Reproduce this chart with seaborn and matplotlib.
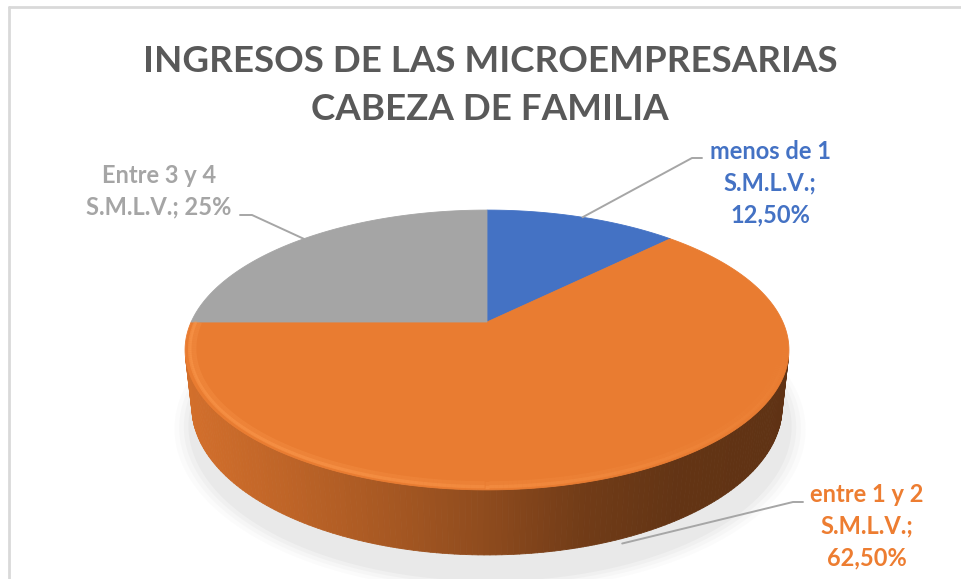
import numpy as np
import matplotlib
matplotlib.use("Agg")
import matplotlib.pyplot as plt
import seaborn as sns
from matplotlib.collections import PolyCollection, LineCollection
from matplotlib.colors import to_rgb

# ---------------- data ----------------
categories = ["menos de 1 S.M.L.V.", "entre 1 y 2 S.M.L.V.", "Entre 3 y 4 S.M.L.V."]
values = [12.5, 62.5, 25.0]
label_lines = [["menos de 1", "S.M.L.V.;", "12,50%"],
               ["entre 1 y 2", "S.M.L.V.;", "62,50%"],
               ["Entre 3 y 4", "S.M.L.V.; 25%"]]
title_lines = ["INGRESOS DE LAS MICROEMPRESARIAS", "CABEZA DE FAMILIA"]
slice_colors = ["#4472C4", "#ED7D31", "#A5A5A5"]
top_colors = ["#4472C4", "#E97C31", "#A5A5A5"]

# ---------------- style ----------------
sns.set_theme(style="white")
plt.rcParams['font.family'] = ['Lato', 'DejaVu Sans']

W, HP = 961, 579
fig = plt.figure(figsize=(W / 100, HP / 100), dpi=100)
ax = fig.add_axes([0, 0, 1, 1])
ax.set_xlim(0, W)
ax.set_ylim(HP, 0)
ax.axis('off')

# perspective projection of a 3D disc
ELEV = np.radians(27.0)
DIST = 4.455
SCALE = 1318
CX, CY = 487, 322
DEPTH = 0.217
ce, se = np.cos(ELEV), np.sin(ELEV)


def proj(x, y, z):
    x = np.asarray(x, float); y = np.asarray(y, float); z = np.asarray(z, float)
    vy = y + DIST * ce
    vz = z - DIST * se
    d = vy * ce - vz * se
    u = vy * se + vz * ce
    return CX + SCALE * x / d, CY - SCALE * u / d


fracs = np.array(values) / np.sum(values)
starts = 90 - 360 * np.concatenate([[0], np.cumsum(fracs)[:-1]])
ends = starts - 360 * fracs

# ---------------- shadow ----------------
t = np.linspace(0, 2 * np.pi, 300)
for r, a in [(1.06, 0.025), (1.045, 0.035), (1.03, 0.045), (1.015, 0.06)]:
    xs, ys = proj(r * np.cos(t) + 0.01, r * np.sin(t) - 0.05, np.full_like(t, -DEPTH - 0.04))
    ax.fill(xs, ys, color='#7f7f7f', alpha=a, lw=0, zorder=1)

# ---------------- side wall ----------------
a0 = np.degrees(np.arcsin(1 / (DIST * ce)))
vis_lo, vis_hi = -180 + a0, -a0
xl, _ = proj(-1.02, -0.2, 0)
xr, _ = proj(1.02, -0.2, 0)
shade_x = [0, 0.15, 0.35, 0.5, 0.65, 0.8, 1.0]
shade_f = [0.90, 0.82, 0.70, 0.60, 0.48, 0.42, 0.40]
polys, cols = [], []
for i in range(len(values)):
    lo, hi = min(starts[i], ends[i]), max(starts[i], ends[i])
    for off in (0, -360, 360):
        l2, h2 = max(lo + off, vis_lo), min(hi + off, vis_hi)
        if h2 > l2:
            th = np.radians(np.linspace(l2, h2, 160))
            base = np.array(to_rgb(slice_colors[i]))
            for j in range(len(th) - 1):
                tt = th[j:j + 2]
                x1, y1 = proj(np.cos(tt), np.sin(tt), np.zeros(2))
                x2, y2 = proj(np.cos(tt), np.sin(tt), np.full(2, -DEPTH))
                polys.append([(x1[0], y1[0]), (x1[1], y1[1]), (x2[1], y2[1]), (x2[0], y2[0])])
                xn = (np.mean(x1) - xl) / (xr - xl)
                f = np.interp(xn, shade_x, shade_f)
                cols.append(np.clip(base * f, 0, 1))
pc = PolyCollection(polys, facecolors=cols, edgecolors=cols, linewidths=0.6, zorder=2)
ax.add_collection(pc)

# ---------------- top face ----------------
for i in range(len(values)):
    th = np.radians(np.linspace(starts[i], ends[i], 200))
    xs, ys = proj(np.cos(th), np.sin(th), np.zeros_like(th))
    px = np.concatenate([[CX], xs])
    py = np.concatenate([[CY], ys])
    ax.fill(px, py, color=top_colors[i], lw=0.6, ec=top_colors[i], zorder=3)

# soft rim highlight on front edge of top face (fades to the right)
th = np.radians(np.linspace(-180, 0, 240))
for r, lw, amax in [(0.975, 5.0, 0.25), (0.985, 2.5, 0.45)]:
    xs, ys = proj(r * np.cos(th), r * np.sin(th), np.zeros_like(th))
    segs = [[(xs[j], ys[j]), (xs[j + 1], ys[j + 1])] for j in range(len(xs) - 1)]
    fade = np.interp(np.linspace(0, 1, len(segs)), [0, 0.35, 0.7, 1.0], [1.0, 0.9, 0.35, 0.0])
    seg_cols = [(1.0, 0.62, 0.32, amax * f) for f in fade]
    ax.add_collection(LineCollection(segs, colors=seg_cols, linewidths=lw, zorder=4,
                                     capstyle='butt'))

# ---------------- chart border ----------------
ax.plot([9, 9], [HP, 7], color='#D9D9D9', lw=2.0, zorder=0)
ax.plot([9, W], [7, 7], color='#D9D9D9', lw=2.0, zorder=0)

# ---------------- title ----------------
for k, line in enumerate(title_lines):
    ax.text(490, 72 + 48 * k, line, ha='center', va='baseline', fontsize=26.5,
            fontweight='bold', color='#595959', zorder=6)

# ---------------- labels + leader lines ----------------
label_pos = [(770, 159), (867, 502), (159, 183)]
elbows = [[(692, 158), (702, 158)], [(793, 502), (803, 502)], [(252, 215), (240, 215)]]
anchor_z = [0.0, -DEPTH, 0.0]
line_step = 31.5
for i in range(len(values)):
    mid = np.radians((starts[i] + ends[i]) / 2)
    axp, ayp = proj(np.cos(mid), np.sin(mid), anchor_z[i])
    pts = [(float(axp), float(ayp) + (5 if anchor_z[i] < 0 else 0))] + elbows[i]
    ax.plot([p[0] for p in pts], [p[1] for p in pts], color='#A6A6A6', lw=1.4, zorder=5)
    lx, ly = label_pos[i]
    for k, line in enumerate(label_lines[i]):
        ax.text(lx, ly + line_step * k, line, ha='center', va='baseline', fontsize=17,
                fontweight='bold', color=slice_colors[i], zorder=6)

fig.savefig("out.png", dpi=100, facecolor='white')
